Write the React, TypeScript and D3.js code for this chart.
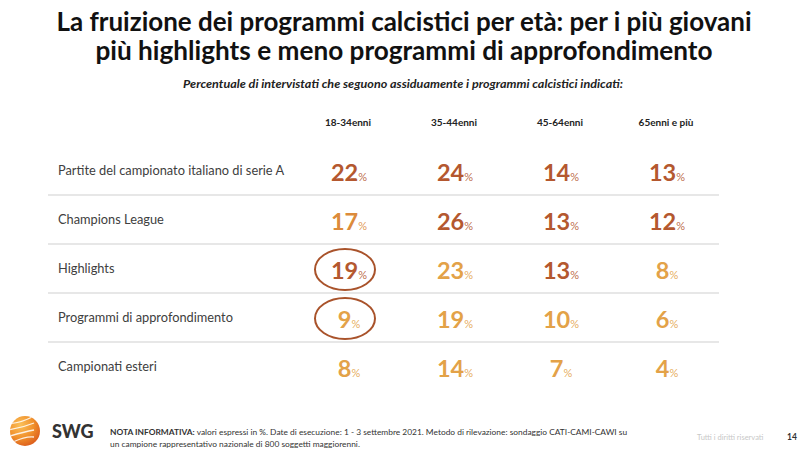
import React from "react";
import * as d3 from "d3";

const titleLines = [
  "La fruizione dei programmi calcistici per età: per i più giovani",
  "più highlights e meno programmi di approfondimento",
];
const subtitle =
  "Percentuale di intervistati che seguono assiduamente i programmi calcistici indicati:";
const ageGroups = ["18-34enni", "35-44enni", "45-64enni", "65enni e più"];
const programs = [
  "Partite del campionato italiano di serie A",
  "Champions League",
  "Highlights",
  "Programmi di approfondimento",
  "Campionati esteri",
];
// values[row][col]
const values = [
  [22, 24, 14, 13],
  [17, 26, 13, 12],
  [19, 23, 13, 8],
  [9, 19, 10, 6],
  [8, 14, 7, 4],
];
// emphasis level of each cell (2 = strong, 1 = medium, 0 = weak)
const emphasis = [
  [2, 2, 2, 2],
  [1, 2, 2, 2],
  [2, 0, 2, 0],
  [0, 0, 0, 0],
  [0, 0, 0, 0],
];
// circled cells [row, col]
const circled: [number, number][] = [
  [2, 0],
  [3, 0],
];
const noteBold = "NOTA INFORMATIVA:";
const noteLine1 =
  " valori espressi in %. Date di esecuzione: 1 - 3 settembre 2021. Metodo di rilevazione: sondaggio CATI-CAMI-CAWI su";
const noteLine2 = "un campione rappresentativo nazionale di 800 soggetti maggiorenni.";
const rights = "Tutti i diritti riservati";
const pageNum = "14";

const W = 800;
const H = 452;
const FONT = "Lato, 'Open Sans', sans-serif";

export default function App() {
  const x = d3.scaleBand<string>().domain(ageGroups).range([295, 719]);
  const y = d3.scaleBand<string>().domain(programs).range([145.5, 390.5]);
  const color = d3
    .scaleOrdinal<number, string>()
    .domain([0, 1, 2])
    .range(["#E3A248", "#DC8B3B", "#B4582F"]);

  const cx = (c: number) => (x(ageGroups[c]) ?? 0) + x.bandwidth() / 2;
  const cy = (r: number) => (y(programs[r]) ?? 0) + y.bandwidth() / 2;

  return (
    <svg
      width={W}
      height={H}
      style={{ position: "absolute", left: 0, top: 0, background: "#fff" }}
      fontFamily={FONT}
    >
      <defs>
        <radialGradient id="sphere" cx="0.35" cy="0.3" r="0.8">
          <stop offset="0" stopColor="#FBC15A" />
          <stop offset="0.55" stopColor="#F0902C" />
          <stop offset="1" stopColor="#D9561B" />
        </radialGradient>
        <clipPath id="logoClip">
          <circle cx={25} cy={431} r={15} />
        </clipPath>
      </defs>
      <rect width={W} height={H} fill="#fff" />

      {/* Title */}
      {titleLines.map((t, i) => (
        <text
          key={i}
          x={W / 2 + 4}
          y={31 + i * 29}
          textAnchor="middle"
          fontSize={26.5}
          fontWeight={700}
          fill="#111"
          textLength={i === 0 ? 695 : 617}
          lengthAdjust="spacingAndGlyphs"
        >
          {t}
        </text>
      ))}
      <text
        x={403}
        y={88}
        textAnchor="middle"
        fontSize={11}
        fontWeight={700}
        fontStyle="italic"
        fill="#222"
        textLength={440}
        lengthAdjust="spacingAndGlyphs"
      >
        {subtitle}
      </text>

      {/* Column headers */}
      {ageGroups.map((g, c) => (
        <text
          key={g}
          x={cx(c)}
          y={126}
          textAnchor="middle"
          fontSize={10}
          fontWeight={700}
          fill="#222"
        >
          {g}
        </text>
      ))}

      {/* Row separators */}
      {programs.slice(1).map((p) => (
        <line
          key={p}
          x1={48}
          x2={719}
          y1={(y(p) ?? 0) + 0.5}
          y2={(y(p) ?? 0) + 0.5}
          stroke="#CFCFCF"
          strokeWidth={1.2}
        />
      ))}

      {/* Row labels */}
      {programs.map((p, r) => (
        <text
          key={p}
          x={58}
          y={cy(r) + 4.5}
          fontSize={12.8}
          fill="#404040"
        >
          {p}
        </text>
      ))}

      {/* Values */}
      {values.map((row, r) =>
        row.map((v, c) => {
          const col = color(emphasis[r][c]);
          return (
            <text
              key={`${r}-${c}`}
              x={cx(c) + 1}
              y={cy(r) + 11}
              textAnchor="middle"
              fill={col}
              fontWeight={700}
            >
              <tspan fontSize={23.5}>{v}</tspan>
              <tspan fontSize={11} fontWeight={400} fillOpacity={0.9}>
                %
              </tspan>
            </text>
          );
        })
      )}

      {/* Circles */}
      {circled.map(([r, c]) => (
        <ellipse
          key={`e-${r}-${c}`}
          cx={cx(c) - 3}
          cy={cy(r) + 1.5}
          rx={30}
          ry={20.5}
          fill="none"
          stroke="#A9532B"
          strokeWidth={2}
        />
      ))}

      {/* Footer logo */}
      <circle cx={25} cy={431} r={15} fill="url(#sphere)" />
      <g clipPath="url(#logoClip)" stroke="#fff" strokeWidth={1.3} fill="none" opacity={0.85}>
        {[0, 1, 2, 3].map((k) => (
          <path
            key={k}
            d={`M ${4 + k * 3} ${424 + k * 6} Q ${20 + k * 2} ${424 + k * 4} ${34} ${416 + k * 7}`}
          />
        ))}
      </g>
      <text x={52} y={438} fontSize={18} fontWeight={900} fill="#333">
        SWG
      </text>

      <text x={110} y={435} fontSize={8.4} fill="#333">
        <tspan fontWeight={700}>{noteBold}</tspan>
        <tspan>{noteLine1}</tspan>
      </text>
      <text x={110} y={447} fontSize={8.4} fill="#333">
        {noteLine2}
      </text>
      <text x={697} y={440} fontSize={7.5} fill="#C8C8C8">
        {rights}
      </text>
      <text x={787} y={440} fontSize={8.5} fontWeight={700} fill="#333">
        {pageNum}
      </text>
    </svg>
  );
}
